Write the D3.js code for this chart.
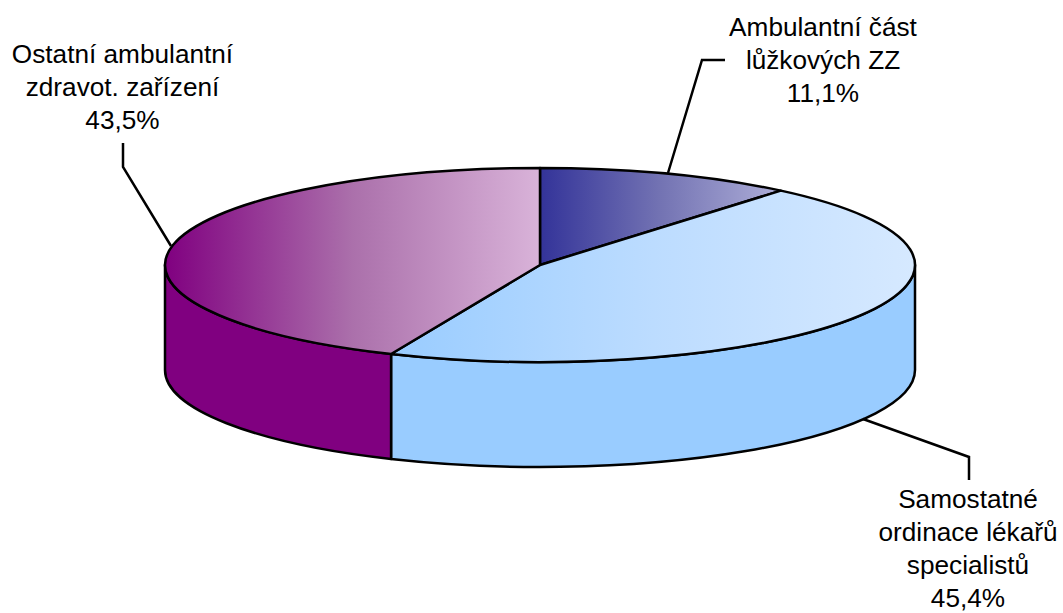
<!DOCTYPE html>
<html>
<head>
<meta charset="utf-8">
<style>
  html, body { margin: 0; padding: 0; background: #fff; }
  svg { display: block; }
  text { font-family: "Liberation Sans", Arial, sans-serif; font-size: 26.2px; fill: #000; }
</style>
<script src="https://cdn.jsdelivr.net/npm/d3@7"></script>
</head>
<body>
<svg id="chart" width="1063" height="613"></svg>
<script>
const categories = ['Ambulantní část lůžkových ZZ', 'Samostatné ordinace lékařů specialistů', 'Ostatní ambulantní zdravot. zařízení'];
const values = [11.1, 45.4, 43.5];
const labelLines = [
  ['Ambulantní část', 'lůžkových ZZ', '11,1%'],
  ['Samostatné', 'ordinace lékařů', 'specialistů', '45,4%'],
  ['Ostatní ambulantní', 'zdravot. zařízení', '43,5%']
];
const sideColors = ['#333399', '#99ccff', '#800080'];
const gradientStops = [
  ['#333399', '#7373b3', '#aeaed8'],
  ['#99ccff', '#bcdcff', '#d6e9ff'],
  ['#800080', '#ab70ab', '#d9b3d9']
];

const svg = d3.select('#chart');

// Ellipse of the pie top and the height of the wall
const cx = 540, cy = 265, rx = 375, ry = 97, depth = 105;
const x = d3.scaleLinear().domain([-1, 1]).range([cx - rx, cx + rx]);
const y = d3.scaleLinear().domain([-1, 1]).range([cy + ry, cy - ry]);

const arcs = d3.pie().sort(null)(values);
const px = (a) => x(Math.sin(a));
const py = (a) => y(Math.cos(a));

// Pie top, clockwise from 12 o'clock
const topPath = (d) => {
  const large = d.endAngle - d.startAngle > Math.PI ? 1 : 0;
  return `M${cx},${cy}L${px(d.startAngle)},${py(d.startAngle)}` +
    `A${rx},${ry} 0 ${large} 1 ${px(d.endAngle)},${py(d.endAngle)}Z`;
};

// Front wall: only the part of the rim in the lower half is visible
const wallPath = (d) => {
  const a0 = Math.max(d.startAngle, Math.PI / 2);
  const a1 = Math.min(d.endAngle, Math.PI * 1.5);
  if (a1 <= a0) return null;
  return `M${px(a0)},${py(a0)}A${rx},${ry} 0 0 1 ${px(a1)},${py(a1)}` +
    `L${px(a1)},${py(a1) + depth}A${rx},${ry} 0 0 0 ${px(a0)},${py(a0) + depth}Z`;
};

// Horizontal gradients span each slice's own width on screen
const defs = svg.append('defs');
arcs.forEach((d, i) => {
  const xs = [d.startAngle, d.endAngle].map(px);
  if (d.startAngle < Math.PI / 2 && d.endAngle > Math.PI / 2) xs.push(x(1));
  if (d.startAngle < Math.PI * 1.5 && d.endAngle > Math.PI * 1.5) xs.push(x(-1));
  const g = defs.append('linearGradient')
    .attr('id', 'top' + i)
    .attr('gradientUnits', 'userSpaceOnUse')
    .attr('x1', d3.min(xs)).attr('x2', d3.max(xs))
    .attr('y1', 0).attr('y2', 0);
  gradientStops[i].forEach((c, j) => {
    g.append('stop').attr('offset', j / (gradientStops[i].length - 1)).attr('stop-color', c);
  });
});

svg.append('g').selectAll('path')
  .data(arcs.filter(wallPath))
  .enter().append('path')
  .attr('d', wallPath)
  .attr('fill', (d) => sideColors[d.index])
  .attr('stroke', '#000').attr('stroke-width', 2.5).attr('stroke-linejoin', 'round');

svg.append('g').selectAll('path')
  .data(arcs)
  .enter().append('path')
  .attr('d', topPath)
  .attr('fill', (d) => `url(#top${d.index})`)
  .attr('stroke', '#000').attr('stroke-width', 2.5).attr('stroke-linejoin', 'round');

// Leader lines
const leaders = [
  [[668, 173], [702, 60], [725, 60]],
  [[863, 419], [969, 457], [969, 480]],
  [[171, 246], [123, 167], [123, 143]]
];
svg.append('g').selectAll('path')
  .data(leaders)
  .enter().append('path')
  .attr('d', d3.line())
  .attr('fill', 'none')
  .attr('stroke', '#000').attr('stroke-width', 2.5);

// Labels
const labelX = [823, 968, 122.5];
const labelY = [36, 508, 63];
const lineHeight = 33;
labelLines.forEach((lines, i) => {
  svg.append('text')
    .attr('text-anchor', 'middle')
    .selectAll('tspan')
    .data(lines)
    .enter().append('tspan')
    .attr('x', labelX[i])
    .attr('y', (d, j) => labelY[i] + j * lineHeight)
    .text((d) => d);
});
</script>
</body>
</html>
